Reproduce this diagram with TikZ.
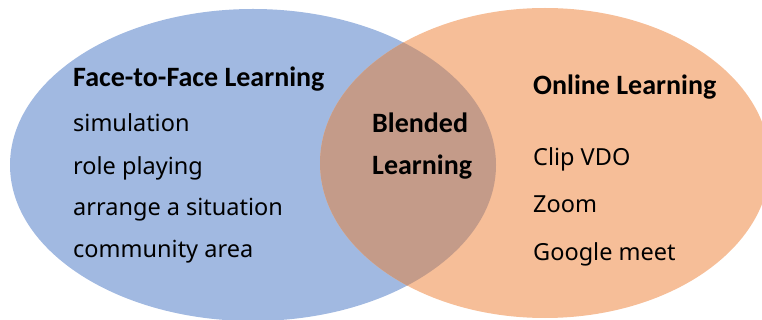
\documentclass[tikz,border=0pt]{standalone}
\usepackage{fontspec}
\setmainfont{Noto Sans}
\newfontfamily\headfont{Carlito}
\definecolor{faceblue}{RGB}{161,185,225}
\definecolor{onlineorange}{RGB}{246,190,152}
\definecolor{blendbrown}{RGB}{196,155,137}
\begin{document}
\begin{tikzpicture}[x=1pt,y=-1pt,
  item/.style={anchor=base west,inner sep=0pt,font=\fontsize{23.5}{26}\selectfont},
  head/.style={item,font=\headfont\fontsize{28}{32}\selectfont\bfseries}]
\useasboundingbox (0,0) rectangle (762,320);
\fill[faceblue] (253,165) ellipse [x radius=243,y radius=156];
\fill[onlineorange] (545,163) ellipse [x radius=225,y radius=155];
\begin{scope}
\clip (253,165) ellipse [x radius=243,y radius=156];
\fill[blendbrown] (545,163) ellipse [x radius=225,y radius=155];
\end{scope}
% left set
\node [head] (face) at (73,87) {Face-to-Face Learning};
\node [item] (sim) at (73,132) {simulation};
\node [item] (role) at (73,175) {role playing};
\node [item] (arrange) at (73,216) {arrange a situation};
\node [item] (comm) at (73,257) {community area};
% overlap
\node [head] (blend) at (372,133) {Blended};
\node [head] (blearn) at (372,175) {Learning};
% right set
\node [head] (online) at (533,95) {Online Learning};
\node [item] (clip) at (533,166) {Clip VDO};
\node [item] (zoom) at (533,213) {Zoom};
\node [item] (meet) at (533,260) {Google meet};
\end{tikzpicture}
\end{document}
